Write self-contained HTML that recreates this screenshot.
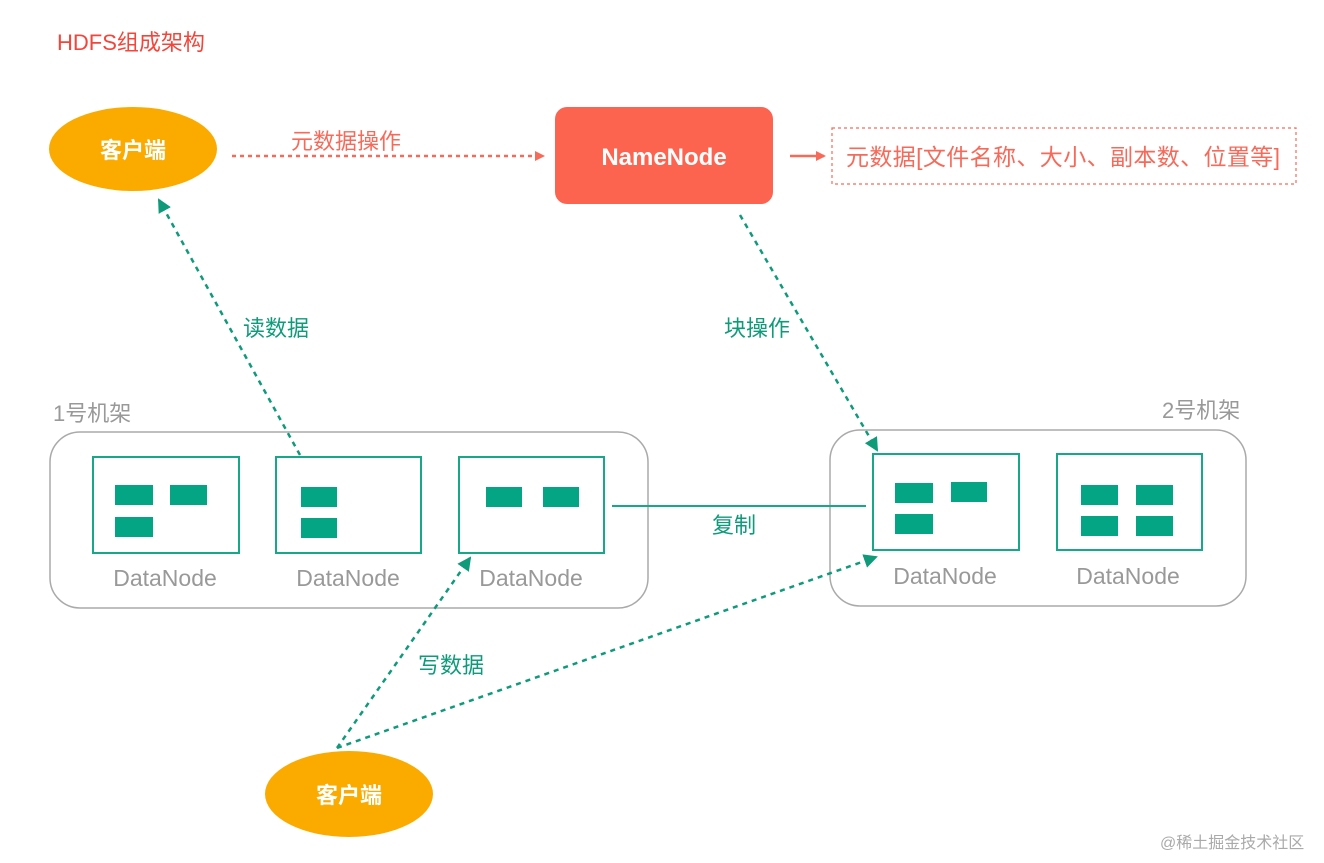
<!DOCTYPE html>
<html><head><meta charset="utf-8"><style>
body{margin:0;background:#fff}
svg text{font-family:"Liberation Sans","Noto Sans CJK SC",sans-serif}
</style></head><body>
<svg width="1324" height="858" viewBox="0 0 1324 858" xmlns="http://www.w3.org/2000/svg">
<defs>
<marker id="ar" markerWidth="10" markerHeight="10" refX="8" refY="5" orient="auto" markerUnits="userSpaceOnUse"><path d="M0,0 L10,5 L0,10 z" fill="#f76a5a"/></marker>
<marker id="ag" markerWidth="14" markerHeight="14" refX="12" refY="7" orient="auto" markerUnits="userSpaceOnUse"><path d="M0,0 L14,7 L0,14 z" fill="#0f9b7a"/></marker>
</defs>
<text x="57" y="50" font-size="22" fill="#f5453a">HDFS组成架构</text>
<ellipse cx="133" cy="149" rx="84" ry="42" fill="#fbab00"/>
<text x="133" y="158" font-size="22" font-weight="bold" fill="#fff" text-anchor="middle">客户端</text>
<line x1="232" y1="156" x2="543" y2="156" stroke="#f76a5a" stroke-width="2.5" stroke-dasharray="4,4" marker-end="url(#ar)"/>
<text x="291" y="149" font-size="22" fill="#f76a5a">元数据操作</text>
<rect x="555" y="107" width="218" height="97" rx="12" fill="#fd6450"/>
<text x="664" y="165" font-size="24" font-weight="bold" fill="#fff" text-anchor="middle">NameNode</text>
<line x1="790" y1="156" x2="824" y2="156" stroke="#f76a5a" stroke-width="2.5" marker-end="url(#ar)"/>
<rect x="832" y="128" width="464" height="56" fill="none" stroke="#f76a5a" stroke-width="1.2" stroke-dasharray="3,3"/>
<text x="846" y="165" font-size="23" fill="#f76a5a" textLength="434">元数据[文件名称、大小、副本数、位置等]</text>
<line x1="300" y1="455" x2="159" y2="200" stroke="#0f9b7a" stroke-width="2.5" stroke-dasharray="5,5" marker-end="url(#ag)"/>
<text x="243" y="336" font-size="22" fill="#0f9b7a">读数据</text>
<line x1="740" y1="215" x2="877" y2="450" stroke="#0f9b7a" stroke-width="2.5" stroke-dasharray="5,5" marker-end="url(#ag)"/>
<text x="724" y="336" font-size="22" fill="#0f9b7a">块操作</text>
<text x="53" y="421" font-size="22" fill="#999">1号机架</text>
<rect x="50" y="432" width="598" height="176" rx="30" fill="none" stroke="#aaa" stroke-width="1.5"/>
<text x="1162" y="418" font-size="22" fill="#999">2号机架</text>
<rect x="830" y="430" width="416" height="176" rx="30" fill="none" stroke="#aaa" stroke-width="1.5"/>
<g fill="none" stroke="#17a88a" stroke-width="2">
<rect x="93" y="457" width="146" height="96"/>
<rect x="276" y="457" width="145" height="96"/>
<rect x="459" y="457" width="145" height="96"/>
<rect x="873" y="454" width="146" height="96"/>
<rect x="1057" y="454" width="145" height="96"/>
</g>
<g fill="#04a584">
<rect x="115" y="485" width="38" height="20"/><rect x="170" y="485" width="37" height="20"/><rect x="115" y="517" width="38" height="20"/>
<rect x="301" y="487" width="36" height="20"/><rect x="301" y="518" width="36" height="20"/>
<rect x="486" y="487" width="36" height="20"/><rect x="543" y="487" width="36" height="20"/>
<rect x="895" y="483" width="38" height="20"/><rect x="951" y="482" width="36" height="20"/><rect x="895" y="514" width="38" height="20"/>
<rect x="1081" y="485" width="37" height="20"/><rect x="1136" y="485" width="37" height="20"/><rect x="1081" y="516" width="37" height="20"/><rect x="1136" y="516" width="37" height="20"/>
</g>
<g font-size="23" fill="#999" text-anchor="middle">
<text x="165" y="586">DataNode</text><text x="348" y="586">DataNode</text><text x="531" y="586">DataNode</text>
<text x="945" y="584">DataNode</text><text x="1128" y="584">DataNode</text>
</g>
<line x1="612" y1="506" x2="866" y2="506" stroke="#17a88a" stroke-width="2"/>
<text x="712" y="533" font-size="22" fill="#0f9b7a">复制</text>
<line x1="337" y1="748" x2="470" y2="558" stroke="#0f9b7a" stroke-width="2.5" stroke-dasharray="5,5" marker-end="url(#ag)"/>
<line x1="337" y1="748" x2="876" y2="557" stroke="#0f9b7a" stroke-width="2.5" stroke-dasharray="5,5" marker-end="url(#ag)"/>
<text x="418" y="673" font-size="22" fill="#0f9b7a">写数据</text>
<ellipse cx="349" cy="794" rx="84" ry="43" fill="#fbab00"/>
<text x="349" y="803" font-size="22" font-weight="bold" fill="#fff" text-anchor="middle">客户端</text>
<text x="1160" y="848" font-size="16" fill="#aaa">@稀土掘金技术社区</text>
</svg>
</body></html>
